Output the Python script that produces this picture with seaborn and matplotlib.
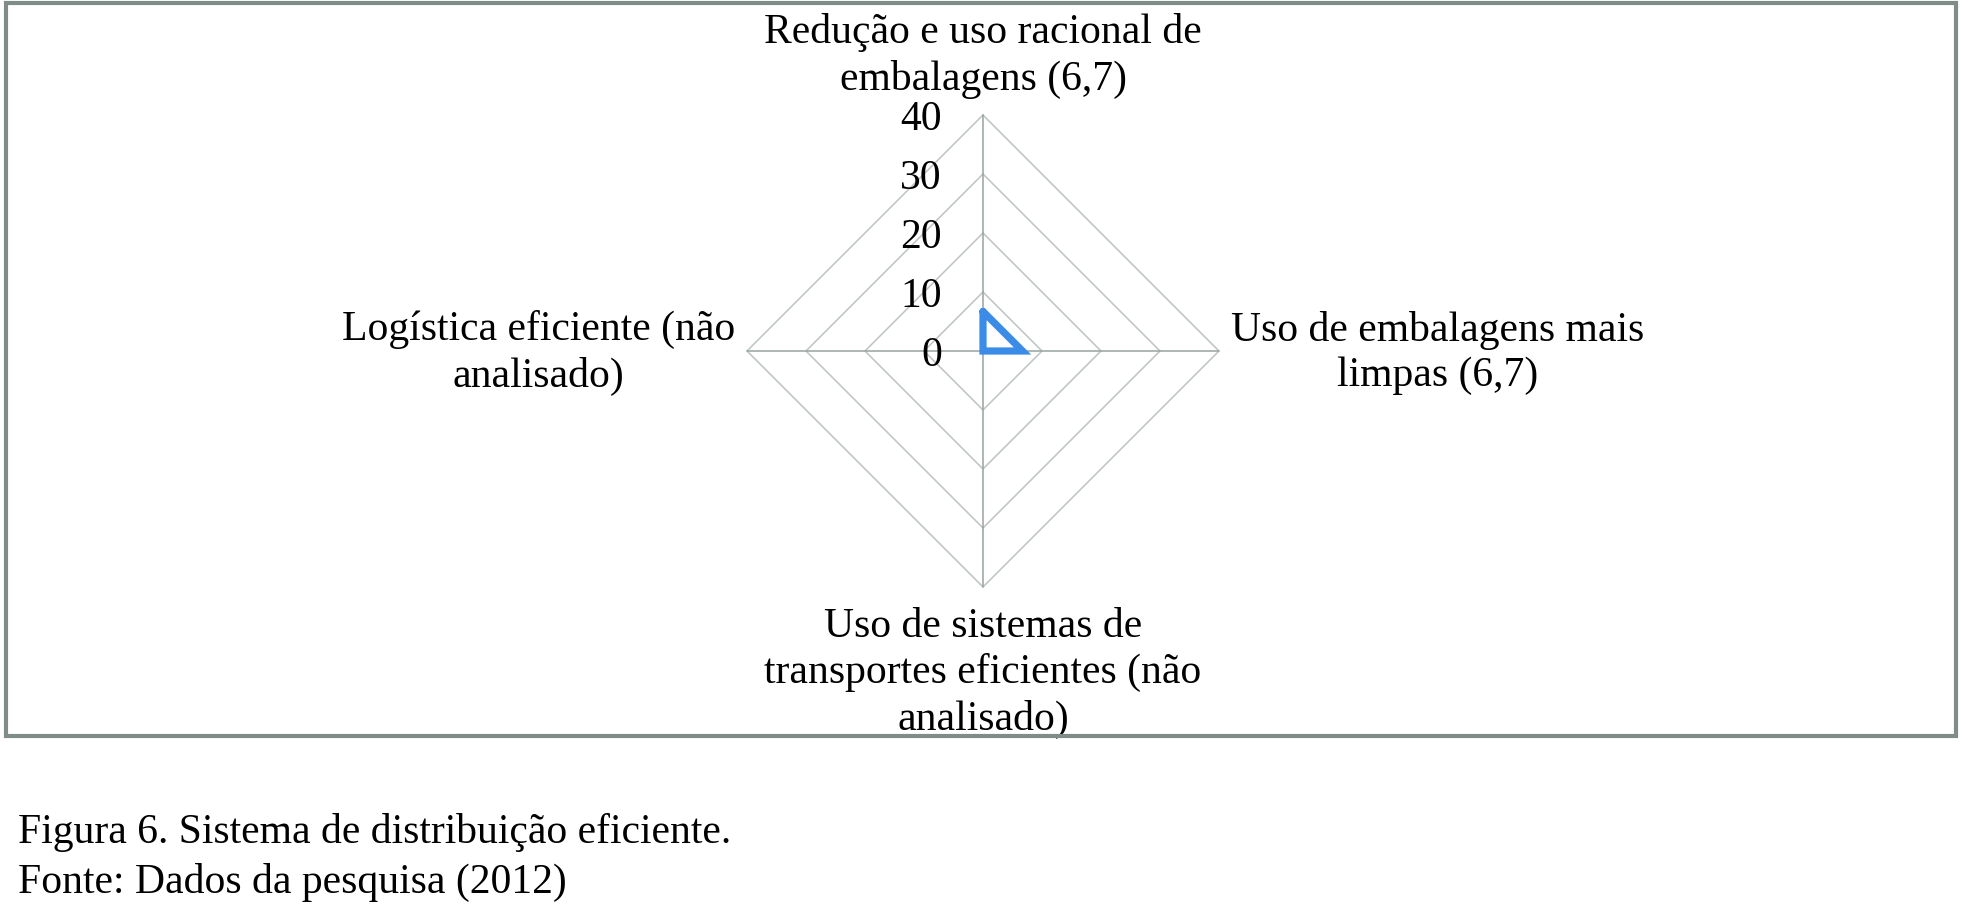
import numpy as np
import pandas as pd
import matplotlib
matplotlib.use("Agg")
import matplotlib.pyplot as plt
import seaborn as sns
from matplotlib.patches import Rectangle

# chart data
categories = ["Redução e uso racional de\nembalagens (6,7)",
              "Uso de embalagens mais\nlimpas (6,7)",
              "Uso de sistemas de\ntransportes eficientes (não\nanalisado)",
              "Logística eficiente (não\nanalisado)"]
values = [6.7, 6.7, 0, 0]
ticks = [0, 10, 20, 30, 40]
caption = ["Figura 6. Sistema de distribuição eficiente.",
           "Fonte: Dados da pesquisa (2012)"]

sns.set_style("white")
plt.rcParams['font.family'] = ['Liberation Serif', 'DejaVu Serif']
plt.rcParams['text.color'] = 'black'
FS = 30
LS = 1.25

W, H = 1961, 914
fig = plt.figure(figsize=(W / 100, H / 100), dpi=100)

# axes box: square in pixels, centre of the radar at (983, 351) from top
cx, cy, half = 983, 351, 265.5
ax = fig.add_axes([(cx - half) / W, (H - cy - half) / H, 2 * half / W, 2 * half / H])
lim = 45
ax.set_xlim(-lim, lim)
ax.set_ylim(-lim, lim)
ax.axis("off")

# angles: top first, then clockwise
angles = np.pi / 2 - np.arange(len(categories)) * 2 * np.pi / len(categories)

# rings (diamonds) and spokes
for r in ticks[1:]:
    xs = np.r_[r * np.cos(angles), r * np.cos(angles[0])]
    ys = np.r_[r * np.sin(angles), r * np.sin(angles[0])]
    ax.plot(xs, ys, color="#bcc3c2", lw=1.1, zorder=1)
for a in angles:
    ax.plot([0, ticks[-1] * np.cos(a)], [0, ticks[-1] * np.sin(a)],
            color="#97a3a1", lw=1.1, zorder=1)

# data polygon
vals = np.array(values + values[:1], dtype=float)
ang = np.r_[angles, angles[0]]
df = pd.DataFrame({"x": vals * np.cos(ang), "y": vals * np.sin(ang), "i": range(len(vals))})
sns.lineplot(data=df, x="x", y="y", sort=False, estimator=None, ax=ax,
             color="#3b8ce6", lw=5.2, zorder=3)
ax.lines[-1].set_solid_joinstyle("miter")
ax.set_xlabel("")
ax.set_ylabel("")

# radial tick labels
u = 40 / 236.0  # data units per pixel
for t in ticks:
    ax.text(-41 * u, t, str(t), ha="right", va="center_baseline", fontsize=FS, color="black")

# category labels
kw = dict(multialignment="center", fontsize=FS, linespacing=LS, clip_on=False, color="black")
ax.text(0, 295 * u, categories[0], ha="center", va="center", **kw)
ax.text(248 * u, -2 * u, categories[1], ha="left", va="center", **kw)
ax.text(0, -322 * u, categories[2], ha="center", va="center", **kw)
ax.text(-248 * u, -2 * u, categories[3], ha="right", va="center", **kw)

# frame around the chart area
fig.patches.append(Rectangle((6 / W, (H - 736) / H), 1950 / W, 733 / H,
                             transform=fig.transFigure, fill=False,
                             edgecolor="#7f8c88", lw=3, zorder=0))

# caption
fig.text(18 / W, 1 - 832 / H, caption[0], ha="left", va="center", fontsize=FS, color="black")
fig.text(18 / W, 1 - 882 / H, caption[1], ha="left", va="center", fontsize=FS, color="black")

fig.savefig("out.png", dpi=100, facecolor="white")
